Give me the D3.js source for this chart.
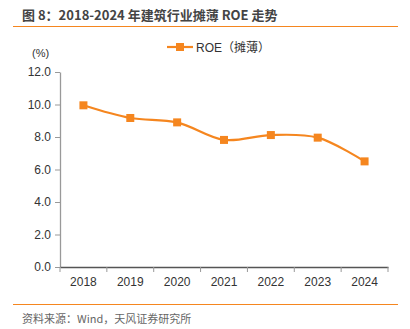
<!DOCTYPE html>
<html><head><meta charset="utf-8">
<script src="https://cdn.jsdelivr.net/npm/d3@7"></script>
<style>body{margin:0;background:#fff}svg{display:block}</style>
</head><body>
<svg id="c" width="410" height="329"></svg>
<script>
const years = ["2018","2019","2020","2021","2022","2023","2024"];
const roe = [9.95, 9.17, 8.90, 7.82, 8.12, 7.96, 6.50];
const yTicks = [0, 2, 4, 6, 8, 10, 12];
const title = "图 8：2018-2024 年建筑行业摊薄 ROE 走势";
const seriesName = "ROE（摊薄）";
const source = "资料来源：Wind，天风证券研究所";

const svg = d3.select("#c");
const orange = "#F5861F";
const font = "'Liberation Sans','Noto Sans CJK SC',Arial,sans-serif";
const cjk = "'Noto Sans CJK SC',sans-serif";

svg.append("text").attr("x", 22).attr("y", 20).attr("font-family", cjk)
  .attr("font-size", 13).attr("font-weight", "bold").attr("fill", "#444").text(title);
svg.append("line").attr("x1", 13).attr("x2", 398).attr("y1", 26.5).attr("y2", 26.5)
  .attr("stroke", orange).attr("stroke-width", 1.2);
svg.append("line").attr("x1", 13).attr("x2", 398).attr("y1", 304.5).attr("y2", 304.5)
  .attr("stroke", orange).attr("stroke-width", 1.2);
svg.append("text").attr("x", 22).attr("y", 323).attr("font-family", cjk)
  .attr("font-size", 11).attr("fill", "#666").text(source);

const x = d3.scaleBand().domain(years).range([60, 388]);
const y = d3.scaleLinear().domain([0, 12]).range([267, 72]);

const gy = svg.append("g").attr("transform", "translate(60,0)")
  .call(d3.axisLeft(y).tickValues(yTicks).tickFormat(d3.format(".1f")).tickSize(5).tickSizeOuter(0));
gy.select(".domain").attr("stroke", "#999").attr("stroke-width", 1.3);
gy.selectAll(".tick line").attr("stroke", "#999");
gy.selectAll(".tick text").attr("font-family", font).attr("font-size", 12).attr("fill", "#333").attr("x", -9);

const gx = svg.append("g").attr("transform", "translate(0,267)")
  .call(d3.axisBottom(x).tickSize(0).tickSizeOuter(0));
gx.select(".domain").attr("stroke", "#555").attr("stroke-width", 1.3);
gx.selectAll(".tick text").attr("font-family", font).attr("font-size", 12).attr("fill", "#333").attr("dy", "1.35em");
const bounds = years.map(d => x(d)).concat([x.range()[1]]);
svg.append("g").selectAll("line").data(bounds).join("line")
  .attr("x1", d => d).attr("x2", d => d).attr("y1", 267).attr("y2", 272)
  .attr("stroke", "#999");

svg.append("text").attr("x", 32).attr("y", 57).attr("font-family", font)
  .attr("font-size", 11).attr("fill", "#333").text("(%)");

const pts = years.map((d, i) => [x(d) + x.bandwidth() / 2, y(roe[i])]);
svg.append("path").attr("d", d3.line().curve(d3.curveCatmullRom)(pts))
  .attr("fill", "none").attr("stroke", orange).attr("stroke-width", 2.2);
svg.append("g").selectAll("rect").data(pts).join("rect")
  .attr("x", d => d[0] - 4).attr("y", d => d[1] - 4).attr("width", 8).attr("height", 8)
  .attr("fill", orange);

// legend
svg.append("line").attr("x1", 167).attr("x2", 193).attr("y1", 47).attr("y2", 47)
  .attr("stroke", orange).attr("stroke-width", 2.2);
svg.append("rect").attr("x", 176).attr("y", 43).attr("width", 8).attr("height", 8).attr("fill", orange);
svg.append("text").attr("x", 196).attr("y", 51.5).attr("font-family", font)
  .attr("font-size", 12).attr("fill", "#333").text(seriesName);
</script>
</body></html>
